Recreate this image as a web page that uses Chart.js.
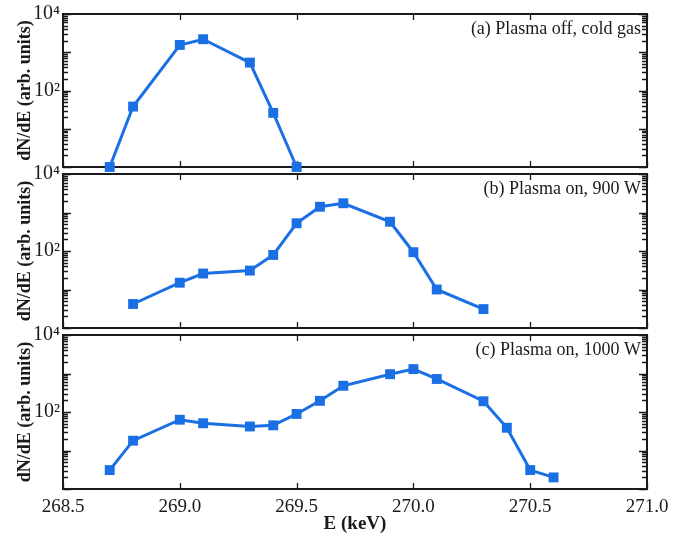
<!DOCTYPE html>
<html><head><meta charset="utf-8">
<script src="https://cdn.jsdelivr.net/npm/chart.js@4.4.0/dist/chart.umd.min.js"></script>
<style>
html,body{margin:0;padding:0;background:#fff;}
#wrap{position:relative;width:695px;height:539px;overflow:hidden;}
canvas{position:absolute;left:0;}
</style></head><body>
<div id="wrap">
  <canvas id="pa" width="695" height="181" style="top:0"></canvas>
  <canvas id="pb" width="695" height="181" style="top:160px"></canvas>
  <canvas id="pc" width="695" height="219" style="top:320px"></canvas>
</div>
<script>
// tick values / labels
const X_TICKS   = [268.5, 269.0, 269.5, 270.0, 270.5, 271.0];
const Y_DECADES = [1, 10, 100, 1000, 10000];
const Y_LABELS  = {10000: '10\u2074', 100: '10\u00b2'};

// (a) Plasma off, cold gas
const energyA = [268.7, 268.8, 269.0, 269.1, 269.3, 269.4, 269.5];
const countsA = [1, 38, 1550, 2190, 537, 26, 1];
// (b) Plasma on, 900 W
const energyB = [268.8, 269.0, 269.1, 269.3, 269.4, 269.5, 269.6, 269.7, 269.9, 270.0, 270.1, 270.3];
const countsB = [4.2, 15, 26, 31, 79, 525, 1410, 1740, 575, 93, 10, 3.1];
// (c) Plasma on, 1000 W
const energyC = [268.7, 268.8, 269.0, 269.1, 269.3, 269.4, 269.5, 269.6, 269.7, 269.9, 270.0, 270.1, 270.3, 270.4, 270.5, 270.6];
const countsC = [3.1, 18, 63, 51, 42, 45, 89, 195, 480, 960, 1300, 720, 190, 39, 3.1, 2.0];

const BLUE  = '#1b6fe4';
const INK   = '#1a1a1a';
const SERIF = '"Liberation Serif", "DejaVu Serif", serif';

Chart.defaults.font.family = SERIF;
Chart.defaults.color = INK;

// frame, inward ticks and panel caption
const framePlugin = {
  id: 'frame',
  beforeDatasetsDraw(chart, args, opts) {
    const {ctx, chartArea: a, scales: {x, y}} = chart;
    ctx.save();
    ctx.strokeStyle = INK;
    ctx.lineWidth = 1.3;
    ctx.beginPath();
    X_TICKS.forEach(v => {
      const px = Math.round(x.getPixelForValue(v)) + .5;
      ctx.moveTo(px, a.bottom); ctx.lineTo(px, a.bottom - 6);
      ctx.moveTo(px, a.top);    ctx.lineTo(px, a.top + 6);
    });
    Y_DECADES.forEach((d, i) => {
      const py = Math.round(y.getPixelForValue(d)) + .5;
      ctx.moveTo(a.left, py);  ctx.lineTo(a.left + 8, py);
      ctx.moveTo(a.right, py); ctx.lineTo(a.right - 8, py);
      if (i < Y_DECADES.length - 1) {
        for (let k = 2; k < 10; k++) {
          const pm = Math.round(y.getPixelForValue(d * k)) + .5;
          ctx.moveTo(a.left, pm);  ctx.lineTo(a.left + 5, pm);
          ctx.moveTo(a.right, pm); ctx.lineTo(a.right - 5, pm);
        }
      }
    });
    ctx.stroke();
    ctx.lineWidth = 2;
    ctx.strokeRect(a.left, a.top, a.width, a.height);
    ctx.fillStyle = INK;
    ctx.font = '18px ' + SERIF;
    ctx.textAlign = 'right';
    ctx.textBaseline = 'middle';
    ctx.fillText(opts.label, a.right - 6, a.top + 15);
    ctx.restore();
  }
};

function makePanel(id, xs, ys, label, bottomAxis, pad) {
  new Chart(document.getElementById(id), {
    type: 'line',
    data: { datasets: [{
      data: xs.map((v, i) => ({x: v, y: ys[i]})),
      borderColor: BLUE, backgroundColor: BLUE, borderWidth: 3,
      pointStyle: 'rect', pointRadius: 7, pointBorderWidth: 0,
      tension: 0, clip: false
    }]},
    plugins: [framePlugin],
    options: {
      responsive: false, animation: false,
      layout: { padding: pad },
      plugins: { legend: { display: false }, tooltip: { enabled: false }, frame: { label } },
      scales: {
        x: {
          type: 'linear', min: 268.5, max: 271.0, display: bottomAxis,
          afterBuildTicks: s => { s.ticks = X_TICKS.map(v => ({value: v})); },
          afterFit: s => { s.height = bottomAxis ? 50 : 0; s.paddingLeft = 0; s.paddingRight = 0; },
          grid: { display: false, drawTicks: false, tickLength: 0 },
          border: { display: false },
          ticks: { autoSkip: false, maxRotation: 0, padding: 7, font: { size: 19 },
                   callback: v => Number(v).toFixed(1) },
          title: { display: true, text: 'E (keV)', padding: { top: 0, bottom: 4 },
                   font: { size: 19, weight: 'bold' } }
        },
        y: {
          type: 'logarithmic', min: 1, max: 10000,
          afterBuildTicks: s => { s.ticks = Y_DECADES.map(v => ({value: v})); },
          afterFit: s => { s.width = 63; s.paddingTop = 0; s.paddingBottom = 0; },
          grid: { display: false, drawTicks: false, tickLength: 0 },
          border: { display: false },
          ticks: { autoSkip: false, padding: 3, font: { size: 20 },
                   callback: v => Y_LABELS[v] || '' },
          title: { display: true, text: 'dN/dE (arb. units)', padding: { top: 15, bottom: 0 },
                   font: { size: 18, weight: 'bold' } }
        }
      }
    }
  });
}

makePanel('pa', energyA, countsA, '(a) Plasma off, cold gas', false, {top: 14, bottom: 14, left: 0, right: 48});
makePanel('pb', energyB, countsB, '(b) Plasma on, 900 W',     false, {top: 14, bottom: 13, left: 0, right: 48});
makePanel('pc', energyC, countsC, '(c) Plasma on, 1000 W',    true,  {top: 15, bottom: 0,  left: 0, right: 48});
</script>
</body></html>
